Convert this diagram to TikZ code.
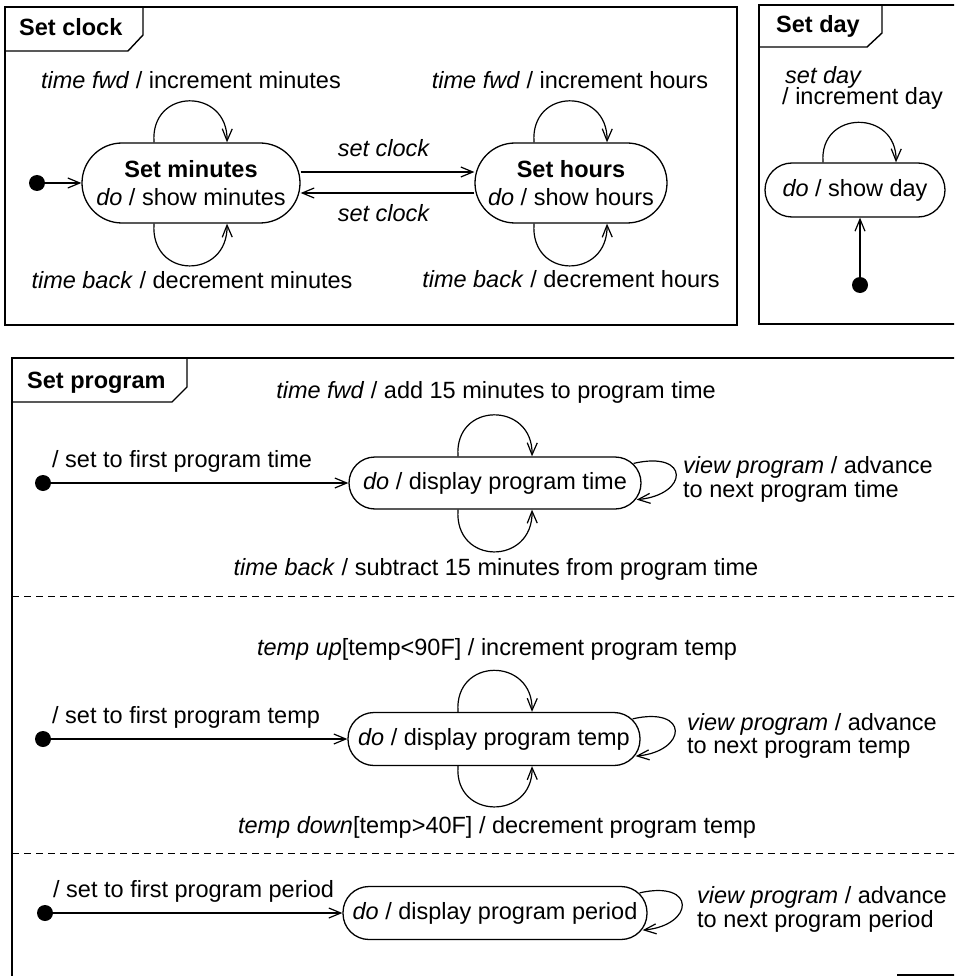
\documentclass[tikz,border=0pt]{standalone}
\usepackage{fontspec}
\setmainfont{Liberation Sans}
\usetikzlibrary{arrows.meta,calc}

\begin{document}
\begin{tikzpicture}[x=1pt, y=-1pt,
  txt/.style={font=\fontsize{23.5}{28}\selectfont, inner sep=0pt, anchor=base},
  lbl/.style={txt, anchor=base west},
  tabtitle/.style={font=\fontsize{23.5}{28}\selectfont\bfseries, inner sep=0pt, anchor=base west},
  boxline/.style={line width=1.4pt},
  stbox/.style={draw, line width=1.3pt, rounded corners=#1, inner sep=0pt, align=center,
                font=\fontsize{23.5}{28}\selectfont},
  startdot/.style={circle, fill=black, inner sep=0pt, minimum size=16pt},
  tr/.style={line width=1.2pt, -{Straight Barb[length=12pt,width=10pt,line width=1.2pt]}},
  divider/.style={line width=1pt, dash pattern=on 7pt off 5pt}
]
\fill[white] (0,0) rectangle (954,976);
\clip (0,0) rectangle (954,976);

% ---------------- Set clock ----------------
\draw[boxline] (5,7) rectangle (737,325);
\draw[boxline] (5,51) -- (128,51) -- (143,35) -- (143,7);
\node[tabtitle] (tclock) at (19,36) {Set clock};

\node[stbox=40pt, minimum width=218pt, minimum height=80pt] (sm) at (191,183)
  {\textbf{Set minutes}\\\textit{do} / show minutes};
\node[stbox=40pt, minimum width=192pt, minimum height=80pt] (sh) at (571,183)
  {\textbf{Set hours}\\\textit{do} / show hours};
\node[startdot] (d0) at (37,183) {};
\draw[tr] (d0) -- (sm);

\draw[tr] ([xshift=-37pt]sm.north) .. controls +(-4,-55) and +(1,-55) .. ([xshift=36pt]sm.north);
\draw[tr] ([xshift=-37pt]sm.south) .. controls +(-4,56) and +(1,56) .. ([xshift=36pt]sm.south);
\draw[tr] ([xshift=-37pt]sh.north) .. controls +(-4,-55) and +(1,-55) .. ([xshift=36pt]sh.north);
\draw[tr] ([xshift=-37pt]sh.south) .. controls +(-4,56) and +(1,56) .. ([xshift=36pt]sh.south);

\draw[tr] ($(sm.east)+(0,-11)$) -- ($(sh.west)+(0,-11)$);
\draw[tr] ($(sh.west)+(0,10)$) -- ($(sm.east)+(0,10)$);

\node[txt] (l1) at (191,89) {\textit{time fwd} / increment minutes};
\node[txt] (l2) at (192,288) {\textit{time back} / decrement minutes};
\node[txt] (l3) at (384,157) {\textit{set clock}};
\node[txt] (l4) at (384,222) {\textit{set clock}};
\node[txt] (l5) at (570,89) {\textit{time fwd} / increment hours};
\node[txt] (l6) at (571,287) {\textit{time back} / decrement hours};

% ---------------- Set day ----------------
\draw[boxline] (965,5) -- (759,5) -- (759,324) -- (965,324);
\draw[boxline] (759,47) -- (867,47) -- (882,33) -- (882,5);
\node[tabtitle] (tday) at (776,33) {Set day};

\node[stbox=27pt, minimum width=180pt, minimum height=54pt] (sd) at (855,190)
  {\textit{do} / show day};
\node[startdot] (dday) at (860,285) {};
\draw[tr] (dday) -- (dday |- sd.south);
\draw[tr] ([xshift=-32pt]sd.north) .. controls +(-4,-53) and +(1,-53) .. ([xshift=41pt]sd.north);
\node[lbl] (l7) at (785,84) {\textit{set day}};
\node[lbl] (l8) at (782,105) {/ increment day};

% ---------------- Set program ----------------
\draw[boxline] (965,358) -- (12,358) -- (12,990);
\draw[boxline] (897,975) -- (965,975);
\draw[boxline] (12,402) -- (172,402) -- (187,387) -- (187,358);
\node[tabtitle] (tprog) at (27,388) {Set program};
\draw[divider] (12,596) -- (960,596);
\draw[divider] (12,853) -- (960,853);

% program time
\node[stbox=26pt, minimum width=292pt, minimum height=52pt] (pt) at (495,483)
  {\textit{do} / display program time};
\node[startdot] (d1) at (43,483) {};
\draw[tr] (d1) -- (pt);
\draw[tr] ([xshift=-37pt]pt.north) .. controls +(-4,-55) and +(1,-55) .. ([xshift=37pt]pt.north);
\draw[tr] ([xshift=-37pt]pt.south) .. controls +(-4,56) and +(1,56) .. ([xshift=37pt]pt.south);
\draw[tr] ($(pt.north east)+(-8,7)$) .. controls +(57,-13) and +(52,-5) .. ($(pt.south east)+(-5,-10)$);
\node[txt] (l9) at (496,398) {\textit{time fwd} / add 15 minutes to program time};
\node[lbl] (l10) at (52,467) {/ set to first program time};
\node[txt] (l11) at (496,575) {\textit{time back} / subtract 15 minutes from program time};
\node[lbl] (l12) at (683,473) {\textit{view program} / advance};
\node[lbl] (l13) at (683,497) {to next program time};

% program temp
\node[stbox=26pt, minimum width=292pt, minimum height=53pt] (pm) at (494,739)
  {\textit{do} / display program temp};
\node[startdot] (d2) at (43,739) {};
\draw[tr] (d2) -- (pm);
\draw[tr] ([xshift=-36pt]pm.north) .. controls +(-4,-55) and +(1,-55) .. ([xshift=38pt]pm.north);
\draw[tr] ([xshift=-36pt]pm.south) .. controls +(-4,54) and +(1,54) .. ([xshift=38pt]pm.south);
\draw[tr] ($(pm.north east)+(-8,7)$) .. controls +(57,-13) and +(52,-5) .. ($(pm.south east)+(-5,-10)$);
\node[txt] (l14) at (497,655) {\textit{temp up}[temp<90F] / increment program temp};
\node[lbl] (l15) at (52,723) {/ set to first program temp};
\node[txt] (l16) at (497,833) {\textit{temp down}[temp>40F] / decrement program temp};
\node[lbl] (l17) at (687,730) {\textit{view program} / advance};
\node[lbl] (l18) at (687,753) {to next program temp};

% program period
\node[stbox=26pt, minimum width=304pt, minimum height=53pt] (pp) at (495,913)
  {\textit{do} / display program period};
\node[startdot] (d3) at (45,913) {};
\draw[tr] (d3) -- (pp);
\draw[tr] ($(pp.north east)+(-8,7)$) .. controls +(57,-13) and +(52,-5) .. ($(pp.south east)+(-5,-10)$);
\node[lbl] (l19) at (53,897) {/ set to first program period};
\node[lbl] (l20) at (697,903) {\textit{view program} / advance};
\node[lbl] (l21) at (697,927) {to next program period};
\end{tikzpicture}
\end{document}
